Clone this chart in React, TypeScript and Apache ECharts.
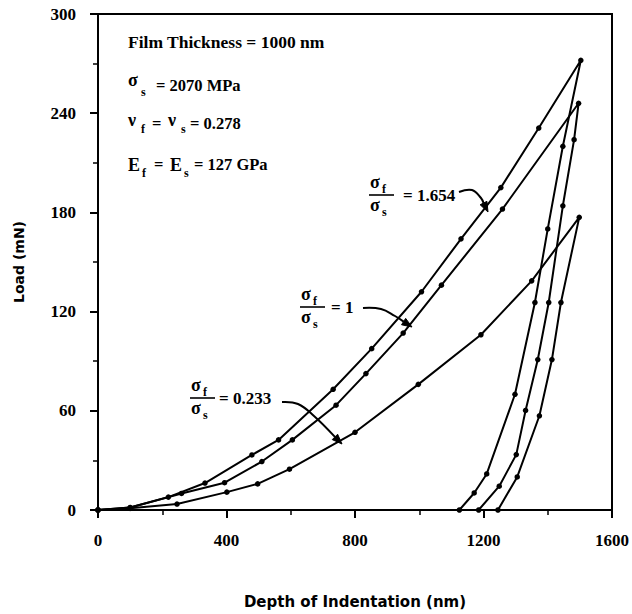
import React, { useEffect, useRef } from "react";
import * as echarts from "echarts";

const SERIF = '"Liberation Serif", "Times New Roman", serif';
const SANS = '"DejaVu Sans", sans-serif';

// Axis settings
const X_MIN = 0;
const X_MAX = 1600;
const X_INTERVAL = 400;
const Y_MIN = 0;
const Y_MAX = 300;
const Y_INTERVAL = 60;

// sigma_f / sigma_s = 1.654
const depth1654Load = [0, 100, 219, 333, 479, 562, 732, 852, 1007, 1130, 1254, 1372, 1503];
const load1654Load = [0, 1.5, 7.8, 16.3, 33.3, 42.4, 73, 97.6, 132, 164, 195, 231, 272];
const depth1654Unload = [1447, 1400, 1360, 1298, 1210, 1171, 1125];
const load1654Unload = [220, 170, 125.5, 70, 21.8, 10.3, 0];

// sigma_f / sigma_s = 1
const depth1Load = [0, 100, 260, 394, 510, 605, 741, 834, 950, 1069, 1259, 1496];
const load1Load = [0, 1.5, 10, 16.5, 29.3, 42.4, 63.4, 82.5, 107, 136, 182, 246];
const depth1Unload = [1482, 1447, 1403, 1369, 1331, 1302, 1249, 1185];
const load1Unload = [224, 184, 125.5, 91, 60.2, 33.5, 14.4, 0];

// sigma_f / sigma_s = 0.233
const depth0233Load = [0, 100, 246, 401, 497, 596, 800, 997, 1192, 1350, 1498];
const load0233Load = [0, 1, 3.6, 10.8, 15.8, 24.7, 47, 76, 106, 138.6, 177];
const depth0233Unload = [1441, 1413, 1374, 1305, 1245];
const load0233Unload = [125.5, 91, 57, 20, 0];

function pairs(ds: number[], vs: number[]) {
  return ds.map((d, i) => [d, vs[i]]);
}

function txt(x: number, y: number, text: string, size: number, family = SERIF, align = "left") {
  return {
    type: "text",
    x,
    y,
    style: {
      text,
      fontSize: size,
      fontWeight: "bold",
      fontFamily: family,
      fill: "#000",
      align,
      verticalAlign: "middle",
    },
  };
}

function fraction(xl: number, yb: number, eqX: number, value: string) {
  return [
    txt(xl + 1, yb - 13, "σ", 18),
    txt(xl + 13, yb - 6, "f", 12),
    {
      type: "line",
      shape: { x1: xl, y1: yb, x2: xl + 25, y2: yb },
      style: { stroke: "#000", lineWidth: 1.6 },
    },
    txt(xl + 1, yb + 10, "σ", 18),
    txt(xl + 13, yb + 17, "s", 12),
    txt(eqX, yb, "= " + value, 17),
  ];
}

function arrow(pts: number[][], tip: number[]) {
  const last = pts[pts.length - 1];
  const dx = tip[0] - last[0];
  const dy = tip[1] - last[1];
  const len = Math.sqrt(dx * dx + dy * dy);
  const ux = dx / len;
  const uy = dy / len;
  const L = 10;
  const W = 3.8;
  const bx = tip[0] - ux * L;
  const by = tip[1] - uy * L;
  return [
    {
      type: "polyline",
      shape: { points: pts.concat([[bx, by]]), smooth: 0.4 },
      style: { stroke: "#000", lineWidth: 2, fill: null },
    },
    {
      type: "polygon",
      shape: {
        points: [
          tip,
          [bx - uy * W, by + ux * W],
          [bx + uy * W, by - ux * W],
        ],
      },
      style: { fill: "#000", stroke: "#000", lineWidth: 1 },
    },
  ];
}

function makeSeries(data: number[][]) {
  return {
    type: "line",
    data,
    symbol: "circle",
    symbolSize: 5.5,
    showSymbol: true,
    lineStyle: { color: "#000", width: 2 },
    itemStyle: { color: "#000" },
    emphasis: { disabled: true },
    z: 3,
  };
}

export default function App() {
  const ref = useRef<HTMLDivElement>(null);

  useEffect(() => {
    if (!ref.current) return;
    const chart = echarts.init(ref.current, undefined, { renderer: "svg" });

    const axisLabel = {
      color: "#000",
      fontFamily: SERIF,
      fontWeight: "bold",
      fontSize: 17,
      formatter: (v: number) => String(v),
    };

    const graphic: any[] = [
      txt(128, 42, "Film Thickness = 1000 nm", 17.5),
      // sigma_s line
      txt(128, 80, "σ", 18),
      txt(141, 92, "s", 12),
      txt(156, 85, "= 2070 MPa", 16.5),
      // nu line
      txt(128, 120, "ν", 18),
      txt(141, 129, "f", 12),
      txt(152, 123, "=", 16.5),
      txt(168, 120, "ν", 18),
      txt(181, 129, "s", 12),
      txt(190, 123, "= 0.278", 16.5),
      // E line
      txt(128, 165, "E", 18),
      txt(142, 173, "f", 12),
      txt(154, 164, "=", 16.5),
      txt(170, 165, "E", 18),
      txt(184, 173, "s", 12),
      txt(194, 164, "= 127 GPa", 16.5),
      ...fraction(369, 195, 403, "1.654"),
      ...arrow(
        [
          [459, 192],
          [472, 190],
          [481, 198],
        ],
        [488, 212]
      ),
      ...fraction(300, 307, 331, "1"),
      ...arrow(
        [
          [363, 308],
          [381, 309],
          [395, 316],
        ],
        [412, 327]
      ),
      ...fraction(190, 398, 219, "0.233"),
      ...arrow(
        [
          [282, 402],
          [298, 404],
          [314, 416],
        ],
        [342, 444]
      ),
    ];

    chart.setOption({
      animation: false,
      backgroundColor: "#fff",
      grid: {
        left: 98,
        right: 15,
        top: 14,
        bottom: 102,
        show: true,
        borderColor: "#000",
        borderWidth: 2,
        backgroundColor: "transparent",
      },
      xAxis: {
        type: "value",
        min: X_MIN,
        max: X_MAX,
        interval: X_INTERVAL,
        name: "Depth of Indentation (nm)",
        nameLocation: "middle",
        nameGap: 84,
        nameTextStyle: {
          color: "#000",
          fontFamily: SANS,
          fontWeight: "bold",
          fontSize: 15,
        },
        axisLine: { show: true, lineStyle: { color: "#000", width: 2 } },
        axisTick: { show: true, inside: false, length: 8, lineStyle: { color: "#000", width: 2 } },
        minorTick: { show: true, splitNumber: 2, length: 5, lineStyle: { color: "#000", width: 1.5 } },
        axisLabel: { ...axisLabel, margin: 22 },
        splitLine: { show: false },
        minorSplitLine: { show: false },
      },
      yAxis: {
        type: "value",
        min: Y_MIN,
        max: Y_MAX,
        interval: Y_INTERVAL,
        name: "Load (mN)",
        nameLocation: "middle",
        nameGap: 72,
        nameRotate: 90,
        nameTextStyle: {
          color: "#000",
          fontFamily: SANS,
          fontWeight: "bold",
          fontSize: 14,
        },
        axisLine: { show: true, lineStyle: { color: "#000", width: 2 } },
        axisTick: { show: true, inside: false, length: 8, lineStyle: { color: "#000", width: 2 } },
        minorTick: { show: true, splitNumber: 2, length: 5, lineStyle: { color: "#000", width: 1.5 } },
        axisLabel: { ...axisLabel, margin: 22 },
        splitLine: { show: false },
        minorSplitLine: { show: false },
      },
      series: [
        makeSeries(pairs(depth1654Load, load1654Load).concat(pairs(depth1654Unload, load1654Unload))),
        makeSeries(pairs(depth1Load, load1Load).concat(pairs(depth1Unload, load1Unload))),
        makeSeries(pairs(depth0233Load, load0233Load).concat(pairs(depth0233Unload, load0233Unload))),
      ],
      graphic,
    });

    return () => {
      chart.dispose();
    };
  }, []);

  return (
    <div
      ref={ref}
      style={{ position: "fixed", left: 0, top: 0, width: 632, height: 614, background: "#fff" }}
    />
  );
}
